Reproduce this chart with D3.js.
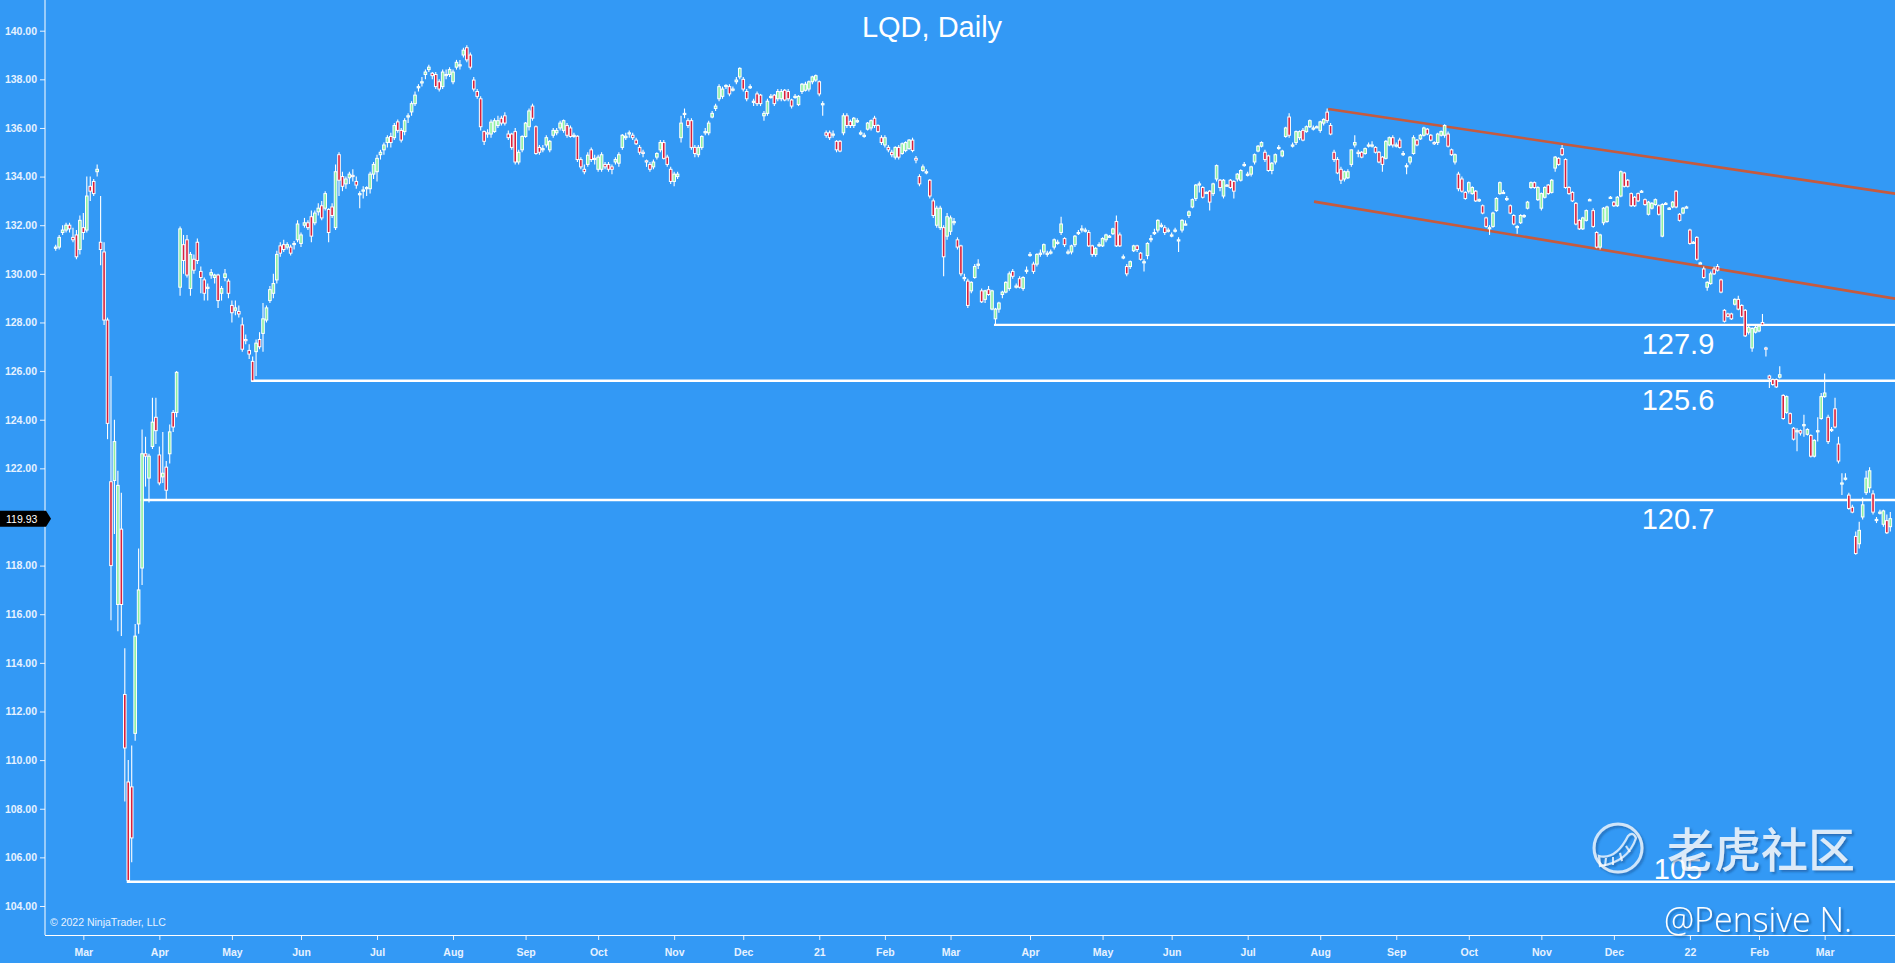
<!DOCTYPE html>
<html><head><meta charset="utf-8">
<script src="https://cdn.jsdelivr.net/npm/d3@7"></script>
<style>
html,body{margin:0;padding:0;background:#3399f5;overflow:hidden}
svg{display:block}
</style></head><body>
<svg id="c" width="1895" height="963"></svg>
<script>
const title = "LQD, Daily";
const copyright = "\u00a9 2022 NinjaTrader, LLC";
const firstDate = "2020-02-19";
const holidays = ["2020-04-10","2020-05-25","2020-07-03","2020-09-07","2020-11-26","2020-12-25",
 "2021-01-01","2021-01-18","2021-02-15","2021-04-02","2021-05-31","2021-07-05","2021-09-06","2021-11-25","2021-12-24",
 "2022-01-17","2022-02-21"];
const monthNames = ["Jan","Feb","Mar","Apr","May","Jun","Jul","Aug","Sep","Oct","Nov","Dec"];
const yTicks = [104,106,108,110,112,114,116,118,120,122,124,126,128,130,132,134,136,138,140];

const opens = [
131.05,131.1,131.7,131.8,132.0,131.5,131.6,131.0,131.9,131.8,
133.6,133.8,134.2,131.3,130.9,128.1,121.45,121.5,116.4,119.5,
112.7,109.1,108.9,111.1,115.6,117.9,122.6,121.6,122.9,124.1,
122.55,121.65,122.05,122.6,124.3,124.3,129.45,131.2,131.4,129.4,
130.6,131.3,130.1,129.75,129.4,129.95,129.85,129.95,129.2,129.85,
129.7,128.7,128.5,128.45,127.9,127.3,126.85,126.4,126.8,127.3,
127.55,128.1,128.9,129.2,129.75,131.15,131.2,131.1,131.1,131.2,
131.4,131.25,132.0,132.1,132.35,132.1,132.55,132.8,132.7,132.65,
132.75,131.9,134.9,134.0,133.7,133.95,134.05,133.8,133.3,133.4,
133.5,133.5,134.1,134.2,134.9,135.1,135.4,135.65,135.6,136.25,
135.9,135.85,136.45,136.66,137.0,137.65,137.85,138.2,138.4,138.25,
138.2,137.9,137.7,138.2,138.2,137.9,138.5,138.6,139.0,139.3,
139.0,137.97,137.5,137.2,135.85,135.8,135.75,135.85,136.1,136.4,
136.5,135.75,135.75,135.85,134.6,135.1,135.65,136.05,136.9,136.05,
135.2,135.1,135.3,135.1,135.7,135.8,136.0,135.9,136.1,136.0,
135.7,135.66,134.7,134.3,134.5,135.1,134.7,134.3,134.3,134.5,
134.5,134.4,134.6,134.55,135.2,135.6,135.8,135.7,135.5,135.2,
135.0,134.65,134.5,134.4,134.8,135.1,135.4,134.8,134.3,133.8,
134.0,135.6,136.6,136.3,136.3,135.2,134.9,135.2,135.8,135.8,
136.45,136.8,137.2,137.3,137.7,137.7,137.6,137.9,138.1,138.0,
137.5,137.7,137.1,137.4,137.35,136.5,136.6,137.3,137.35,137.2,
137.2,137.55,137.5,137.15,137.3,136.96,137.5,137.55,137.6,137.9,
137.97,137.9,137.0,135.8,135.8,135.75,135.45,135.45,135.8,136.5,
136.26,136.1,136.3,135.8,135.7,135.95,136.0,136.4,136.1,135.6,
135.3,135.2,135.0,134.8,135.2,134.95,135.07,135.15,135.5,134.75,
134.0,134.25,134.2,133.85,133.0,132.0,131.9,131.9,131.55,131.75,
132.15,131.4,131.15,129.85,129.7,129.3,129.85,130.4,129.3,128.95,
129.35,128.55,128.15,128.55,129.15,129.25,129.4,130.1,129.5,129.8,
129.4,130.15,130.8,130.4,130.4,130.85,130.9,130.85,130.9,131.1,
131.3,131.7,131.45,130.9,130.9,131.2,131.7,131.85,131.8,131.7,
131.15,130.8,131.2,131.15,131.4,131.55,131.65,132.15,131.6,130.7,
130.3,130.3,130.95,131.15,130.85,130.5,130.75,131.45,131.7,131.8,
132.0,131.9,131.8,131.6,131.8,131.4,131.8,132.05,132.4,132.75,
133.1,133.7,133.55,133.35,133.4,133.3,133.9,133.85,133.2,133.65,
133.85,133.8,133.9,133.85,134.5,134.1,134.1,134.6,135.05,135.25,
135.0,134.85,134.25,134.6,135.2,134.85,135.65,136.45,135.3,135.4,
135.6,135.9,135.85,136.05,136.0,136.05,135.9,136.2,136.65,136.1,
135.0,134.7,134.3,133.9,133.95,134.5,135.3,135.0,135.0,134.95,
135.3,135.3,135.2,135.0,134.8,134.75,135.3,135.6,135.3,135.5,
134.95,134.45,134.6,134.95,135.5,135.55,135.7,135.95,135.7,135.4,
135.4,135.7,135.7,135.75,135.1,134.6,134.1,133.9,133.35,133.4,
133.3,133.4,133.05,132.8,132.3,131.9,131.95,132.6,133.3,133.35,
133.1,132.8,132.4,131.95,132.1,132.4,132.7,133.55,133.75,133.05,
132.7,133.15,133.65,133.35,134.35,134.75,135.15,134.7,133.55,133.35,
132.9,132.2,131.85,132.2,133.05,132.6,131.7,131.1,132.1,132.15,
133.15,132.95,132.8,133.2,134.15,133.85,133.3,133.15,133.3,133.4,
133.05,132.45,132.7,132.85,132.8,131.55,132.9,132.7,132.75,133.4,
132.45,132.5,132.75,131.8,131.3,131.5,130.45,130.2,129.45,129.6,
130.2,130.3,129.75,128.5,128.35,128.35,128.75,128.95,128.7,128.5,
127.6,126.95,127.6,127.65,128.0,126.95,125.8,125.65,125.65,125.75,
125.0,124.3,124.25,123.65,123.55,123.55,123.75,123.4,123.35,122.5,
123.5,124.05,124.95,124.1,123.6,124.45,123.0,121.4,121.6,120.9,
120.4,119.2,118.9,120.0,121.0,121.2,120.95,119.9,120.2,119.7,
119.85,119.6];

const highs = [
131.2,131.6,132.0,132.1,132.1,131.9,131.8,132.4,132.5,134.0,
134.0,133.9,134.5,133.2,131.3,128.2,125.8,124.0,121.9,121.0,
114.6,110.0,110.6,115.6,118.7,123.6,123.3,122.6,124.9,124.9,
122.9,123.5,122.3,123.8,124.4,126.0,131.95,131.6,131.6,130.9,
130.8,131.45,130.3,129.85,129.6,130.2,130.0,130.0,129.5,130.2,
129.8,128.9,128.9,128.7,128.2,127.5,127.1,126.6,127.3,127.6,
128.8,128.7,129.5,130.0,130.95,131.3,131.4,131.3,131.2,131.35,
132.2,131.7,132.3,132.2,132.6,132.6,132.9,133.0,133.4,132.7,
132.9,134.5,135.0,134.2,134.0,134.2,134.3,134.0,133.4,133.6,
133.6,134.2,134.6,134.9,135.1,135.4,135.7,135.8,136.2,136.35,
136.0,136.4,136.6,137.1,137.5,137.8,138.1,138.4,138.6,138.3,
138.3,138.0,138.4,138.4,138.5,138.4,138.8,138.8,139.3,139.4,
139.1,138.1,137.6,137.3,135.9,135.95,136.35,136.4,136.5,136.5,
136.65,135.9,135.8,136.0,135.1,135.7,136.25,136.8,137.0,136.1,
135.3,135.3,135.7,135.5,136.0,136.0,136.3,136.35,136.2,136.1,
135.8,135.7,134.8,134.5,135.0,135.2,134.9,134.9,135.0,134.6,
134.6,134.5,134.8,135.0,135.75,135.8,135.9,135.8,135.6,135.3,
135.1,134.7,134.6,134.7,135.0,135.5,135.5,134.9,134.4,134.2,
134.2,136.5,136.8,136.4,136.4,135.3,135.3,135.7,136.0,136.3,
136.7,137.0,137.8,137.7,137.8,137.8,137.7,138.1,138.5,138.1,
137.6,137.8,137.2,137.5,137.4,136.7,137.2,137.4,137.4,137.6,
137.6,137.6,137.6,137.2,137.4,137.35,137.85,137.9,137.95,138.15,
138.2,137.95,137.1,135.9,135.9,135.9,135.5,135.5,136.6,136.6,
136.35,136.45,136.4,135.9,135.8,136.25,136.35,136.5,136.15,135.7,
135.7,135.3,135.1,135.25,135.3,135.4,135.45,135.55,135.6,134.85,
134.1,134.5,134.3,133.9,133.1,132.8,132.8,132.0,132.5,132.4,
132.3,131.5,131.2,130.0,129.8,129.7,130.4,130.6,129.4,129.35,
129.5,129.35,128.6,128.85,129.3,129.7,130.1,130.2,129.6,129.9,
129.9,130.3,130.9,130.5,130.85,131.0,131.25,130.95,131.0,131.45,
131.4,132.35,131.5,131.0,131.2,131.6,131.8,132.0,131.9,131.8,
131.2,131.1,131.3,131.5,131.65,131.6,131.9,132.4,131.7,130.8,
130.4,130.55,131.2,131.2,130.9,130.6,131.3,131.6,131.85,132.25,
132.1,132.0,131.9,131.7,131.9,131.5,132.25,132.2,132.6,133.1,
133.7,133.8,133.6,133.4,133.45,133.75,134.5,133.9,133.9,133.7,
133.9,133.85,134.15,134.3,134.6,134.2,134.45,134.95,135.3,135.45,
135.1,134.9,134.6,134.95,135.3,135.1,136.05,136.6,135.4,135.9,
135.9,136.0,136.1,136.35,136.1,136.1,136.3,136.4,136.8,136.2,
135.1,134.8,134.4,134.25,134.3,135.1,135.7,135.1,135.05,135.2,
135.4,135.45,135.25,135.05,134.85,135.5,135.65,135.7,135.4,135.6,
135.05,134.55,134.85,135.7,135.55,135.75,136.05,136.0,135.75,135.45,
135.8,135.9,136.15,135.85,135.15,134.95,134.2,134.0,133.4,133.8,
133.6,133.45,133.1,132.85,132.35,132.0,132.55,133.15,133.8,133.45,
133.2,132.85,132.45,132.0,132.45,132.45,133.0,133.8,133.8,133.6,
133.35,133.6,133.7,133.9,134.85,134.8,135.3,134.75,133.6,133.4,
132.95,132.25,132.35,132.65,133.1,132.7,131.75,131.65,132.75,132.8,
133.2,133.0,133.2,134.25,134.2,133.9,133.35,133.2,133.35,133.45,
133.1,133.0,132.95,133.1,132.85,132.9,132.95,132.75,133.0,133.45,
132.5,132.75,132.8,131.85,131.35,131.55,130.5,130.3,129.7,130.1,
130.3,130.4,129.8,128.55,128.4,128.4,129.0,129.1,128.75,128.55,
127.85,127.8,127.85,127.9,128.35,127.0,125.85,125.7,125.7,126.2,
125.05,125.0,124.3,123.7,123.65,123.6,124.2,123.65,123.4,123.2,
124.1,125.1,125.9,124.2,123.7,124.9,123.3,121.8,121.8,121.0,
120.5,119.4,119.8,120.8,121.9,122.05,121.1,120.0,120.3,120.3,
120.1,120.2];

const lows = [
130.95,131.0,131.6,131.7,131.7,131.3,130.6,130.8,131.4,131.7,
133.0,133.2,134.0,130.35,127.9,123.2,115.75,119.3,115.3,115.1,
108.3,105.0,105.8,110.8,115.2,117.2,121.25,120.6,122.8,123.0,
121.3,121.4,120.7,122.2,123.5,124.1,129.1,130.0,129.85,129.1,
130.0,130.4,129.2,128.9,128.9,129.8,129.6,128.6,128.9,129.7,
129.0,128.0,128.3,128.2,126.8,127.1,126.5,125.55,125.8,126.9,
126.8,128.0,128.8,129.0,129.6,130.7,130.9,131.0,130.75,131.0,
131.3,131.1,131.9,131.8,131.3,132.0,132.4,132.2,132.6,131.3,
132.3,131.8,133.2,133.4,133.5,133.7,133.8,133.5,132.7,133.1,
133.2,133.3,133.9,133.8,134.7,134.9,135.2,135.2,135.5,135.8,
135.4,135.7,136.2,136.5,136.9,137.5,137.7,138.0,138.3,138.0,
137.6,137.5,137.6,138.0,138.1,137.8,138.4,138.4,138.9,138.7,
138.4,137.5,137.2,135.9,135.3,135.6,135.6,135.8,136.0,136.1,
136.1,135.5,135.1,134.5,134.5,135.0,135.6,135.9,136.3,134.9,
134.9,135.0,135.2,135.0,135.6,135.7,135.9,135.8,135.6,135.6,
135.6,134.6,134.3,134.1,134.4,134.6,134.5,134.2,134.2,134.3,
134.2,134.1,134.5,134.4,135.1,135.5,135.6,135.5,135.3,134.9,
134.8,134.4,134.2,134.3,134.7,135.0,134.7,134.4,133.7,133.6,
133.9,135.4,136.4,136.0,135.1,134.8,134.8,135.1,135.7,135.7,
136.4,136.7,137.1,137.2,137.6,137.3,137.5,137.8,138.0,137.5,
137.1,137.6,136.9,136.9,136.9,136.3,136.5,137.2,136.9,137.1,
137.1,137.1,137.1,136.8,137.2,136.9,137.4,137.5,137.5,137.8,
137.9,137.3,136.5,135.6,135.5,135.6,135.0,135.0,135.7,136.0,
136.0,136.0,136.2,135.7,135.6,135.9,135.9,136.0,135.8,135.3,
135.2,135.0,134.8,134.7,134.7,134.9,135.0,135.1,135.0,134.55,
133.6,134.2,134.1,133.1,132.3,131.9,131.8,129.9,131.4,131.6,
132.0,131.0,129.9,129.7,128.6,129.2,129.8,130.2,128.8,128.8,
129.1,128.5,127.9,128.4,129.0,129.2,129.3,129.8,129.4,129.4,
129.3,130.0,130.7,130.0,130.3,130.7,130.8,130.7,130.8,131.0,
131.2,131.6,131.1,130.8,130.8,131.1,131.6,131.7,131.7,131.1,
130.7,130.7,131.1,131.1,131.3,131.5,131.6,131.1,131.1,130.6,
129.9,130.2,130.9,130.9,130.55,130.1,130.6,131.3,131.6,131.7,
131.9,131.6,131.7,131.5,131.7,130.9,131.7,132.0,132.3,132.7,
133.0,133.35,133.1,133.3,132.6,133.2,133.8,133.4,133.1,133.6,
133.5,133.1,133.8,133.8,134.4,134.0,134.0,134.5,135.0,135.2,
134.6,134.2,134.1,134.5,135.1,134.8,135.6,135.6,135.2,135.3,
135.5,135.45,135.8,136.0,135.9,136.0,135.8,136.1,136.2,135.7,
134.6,134.1,133.7,133.8,133.9,134.4,135.2,134.8,134.75,134.9,
135.2,135.2,134.95,134.55,134.2,134.7,135.25,135.2,135.2,135.15,
134.85,134.1,134.5,134.9,135.25,135.5,135.65,135.7,135.45,135.3,
135.3,135.65,135.6,135.2,134.85,134.5,133.4,133.35,133.05,133.3,
133.25,132.95,132.95,132.45,131.9,131.6,131.9,132.55,133.25,133.3,
133.0,132.45,132.0,131.65,132.05,132.3,132.65,133.5,133.5,133.0,
132.6,133.1,133.25,133.3,134.2,134.45,134.85,133.5,133.25,132.95,
132.0,131.8,131.8,132.15,133.0,131.9,131.05,131.0,132.0,132.1,
133.1,132.75,132.75,133.15,133.55,133.55,132.75,132.75,132.95,133.35,
132.8,132.4,132.65,132.8,132.4,131.5,132.85,132.65,132.7,132.7,
132.15,132.45,132.7,131.2,131.25,130.55,130.4,129.8,129.3,129.55,
129.95,130.1,129.2,128.0,128.2,128.1,128.7,128.5,128.2,127.4,
127.5,126.8,127.55,127.6,127.85,126.6,125.3,125.4,125.3,125.7,
124.0,124.25,123.8,123.15,122.7,123.35,123.3,123.35,122.45,122.45,
123.1,124.0,124.9,123.0,123.5,123.65,122.2,120.9,121.5,120.3,
120.15,118.45,118.7,119.9,120.9,121.0,120.1,119.75,120.1,119.6,
119.3,119.4];

const closes = [
131.1,131.5,131.8,132.0,131.85,131.4,130.7,132.2,131.7,133.2,
133.4,133.3,134.3,131.0,128.1,123.85,118.0,123.1,121.3,116.4,
110.5,105.05,106.8,115.1,117.0,122.6,122.5,122.5,123.9,123.55,
121.4,121.8,121.1,123.5,123.7,125.95,131.85,130.55,129.95,130.8,
130.15,130.55,129.85,129.2,129.45,130.05,129.95,128.9,129.4,130.0,
129.2,128.4,128.6,128.35,126.9,127.25,126.7,125.6,127.15,127.0,
128.15,128.6,129.35,129.6,130.8,130.85,131.0,131.2,130.85,131.25,
132.05,131.6,132.1,131.9,131.55,132.5,132.7,132.3,133.3,131.7,
132.4,134.2,133.85,133.6,133.9,134.1,134.0,133.65,133.3,133.45,
133.55,134.1,134.5,134.75,135.0,135.3,135.6,135.4,136.1,135.9,
135.5,136.3,136.5,137.0,137.35,137.7,137.9,138.3,138.5,138.15,
137.7,137.6,138.3,138.2,138.4,138.3,138.7,138.6,139.2,138.8,
138.5,137.6,137.3,136.05,135.45,135.75,136.24,136.3,136.3,136.2,
136.2,135.6,135.2,134.6,135.0,135.65,136.2,136.7,136.4,134.95,
135.0,135.15,135.6,135.45,135.9,135.9,136.2,136.3,135.7,135.65,
135.7,134.7,134.4,134.2,134.88,134.7,134.75,134.8,134.9,134.4,
134.3,134.3,134.7,134.9,135.7,135.66,135.8,135.6,135.35,135.0,
134.95,134.6,134.3,134.6,134.95,135.4,134.75,134.5,133.8,134.1,
134.1,136.2,136.6,136.1,135.2,134.95,135.2,135.65,135.85,136.2,
136.6,136.9,137.7,137.6,137.75,137.4,137.6,137.97,138.45,137.6,
137.2,137.7,137.1,137.0,137.0,136.6,137.1,137.3,137.0,137.5,
137.5,137.15,137.2,136.9,137.3,137.3,137.8,137.8,137.9,138.1,
138.15,137.4,137.0,135.7,135.6,135.75,135.1,135.05,136.5,136.1,
136.1,136.4,136.3,135.8,135.7,136.2,136.3,136.1,135.85,135.4,
135.6,135.1,134.9,135.2,134.8,135.35,135.4,135.5,135.07,134.68,
133.7,134.4,134.2,133.2,132.4,132.7,132.7,130.7,132.35,132.3,
132.15,131.1,130.0,129.85,128.7,129.65,130.3,130.4,128.85,129.3,
129.15,129.3,128.55,128.8,129.25,129.65,130.0,129.9,129.5,129.45,
129.85,130.15,130.8,130.1,130.8,130.85,131.2,130.85,130.9,131.4,
131.3,132.05,131.2,130.9,131.15,131.55,131.7,131.85,131.8,131.15,
130.8,131.05,131.2,131.45,131.6,131.55,131.85,131.15,131.15,130.7,
130.0,130.5,131.15,131.0,130.6,130.5,131.25,131.45,131.7,132.2,
132.0,131.7,131.8,131.6,131.8,131.4,132.2,132.05,132.55,133.05,
133.65,133.7,133.15,133.35,132.95,133.7,134.45,133.55,133.85,133.65,
133.55,133.4,134.1,134.25,134.5,134.1,134.4,134.9,135.25,135.4,
134.7,134.25,134.55,134.9,135.2,135.05,136.0,135.7,135.3,135.85,
135.85,135.5,136.05,136.3,136.0,136.05,136.25,136.35,136.3,135.75,
134.7,134.15,133.85,134.2,134.2,135.1,135.4,134.95,134.8,135.15,
135.3,135.3,135.0,134.6,134.5,135.45,135.6,135.3,135.3,135.2,
134.95,134.45,134.8,135.6,135.3,135.7,136.0,135.75,135.5,135.35,
135.75,135.85,136.1,135.25,134.9,134.9,133.5,133.4,133.1,133.75,
133.55,133.0,133.05,132.5,131.95,131.9,132.5,133.1,133.75,133.35,
133.1,132.5,132.05,131.95,132.4,132.4,132.95,133.75,133.55,133.55,
133.3,133.55,133.3,133.85,134.8,134.5,134.9,133.55,133.3,133.0,
132.05,131.85,132.3,132.6,133.05,131.95,131.1,131.6,132.7,132.75,
133.15,132.8,133.15,134.2,133.6,133.6,132.8,132.8,133.0,133.4,
132.85,132.95,132.9,133.05,132.45,132.85,132.9,132.7,132.95,132.75,
132.2,132.7,132.75,131.25,131.3,130.6,130.45,129.85,129.65,130.0,
130.0,130.15,129.25,128.05,128.25,128.15,128.95,128.55,128.25,127.45,
127.8,127.75,127.8,127.85,127.9,126.9,125.7,125.45,125.35,125.85,
124.05,124.95,123.85,123.2,123.55,123.45,123.8,123.6,122.5,123.15,
123.55,124.95,125.1,123.1,123.6,123.7,122.3,121.4,121.6,120.35,
120.2,118.5,119.45,120.5,121.6,121.9,120.2,119.9,120.2,120.25,
119.35,119.93];

// horizontal support levels: price, bar index where the line starts, label placement
const levelPrices = [127.9, 125.6, 120.7, 105];
const levelLabels = ["127.9", "125.6", "120.7", "105"];
const levelStartBars = [272, 57, 25, 21];
const levelLabelAbove = [false, false, false, true];
// downward channel: [barIndex, price] pairs
const channelUpper = [[368.3, 136.78], [532.4, 133.3]];
const channelLower = [[364.2, 132.97], [532.4, 128.98]];

// ---- build trading calendar ----
const hol = new Set(holidays);
const dates = [];
{
  const [yy, mm, dd] = firstDate.split("-").map(Number);
  const d = new Date(Date.UTC(yy, mm - 1, dd));
  while (dates.length < closes.length) {
    const wd = d.getUTCDay();
    const s = d.toISOString().slice(0, 10);
    if (wd !== 0 && wd !== 6 && !hol.has(s)) dates.push(new Date(d.getTime()));
    d.setUTCDate(d.getUTCDate() + 1);
  }
}
const bars = closes.map((c, i) => ({i, o: opens[i], h: highs[i], l: lows[i], c, date: dates[i]}));

const W = 1895, H = 963;
const plotL = 45, plotR = 1895, plotT = 0, plotB = 935;
const svg = d3.select("#c");
const BG = "#3399f5", TXT = "#e6f2ff";

svg.append("rect").attr("width", W).attr("height", H).attr("fill", BG);

const x = d3.scaleLinear().domain([0, bars.length - 1]).range([55.7, 55.7 + (bars.length - 1) * 3.455]);
const y = d3.scaleLinear().domain([104, 140]).range([906, 30.7]);

const defs = svg.append("defs");
defs.append("clipPath").attr("id", "plotclip").append("rect")
  .attr("x", plotL + 1).attr("y", plotT).attr("width", plotR - plotL).attr("height", plotB - plotT);
const f = defs.append("filter").attr("id", "shadow").attr("x", "-10%").attr("y", "-10%").attr("width", "130%").attr("height", "140%");
f.append("feDropShadow").attr("dx", 2).attr("dy", 2).attr("stdDeviation", 1.2)
  .attr("flood-color", "#123a70").attr("flood-opacity", 0.55);

// title
svg.append("text").attr("x", 932).attr("y", 37).attr("text-anchor", "middle")
  .attr("font-family", "Liberation Sans, Arial, sans-serif").attr("font-size", 29)
  .attr("fill", "#ffffff").text(title);

// axes
const yAxis = d3.axisLeft(y).tickValues(yTicks).tickFormat(d3.format(".2f")).tickSize(5).tickPadding(3);
const gy = svg.append("g").attr("transform", `translate(${plotL},0)`).call(yAxis);
gy.select(".domain").remove();
gy.selectAll(".tick line").attr("stroke", TXT);
gy.selectAll(".tick text").attr("fill", TXT).attr("font-family", "Liberation Sans, Arial, sans-serif")
  .attr("font-size", 10.5).attr("font-weight", "bold");

const monthTicks = bars.filter((b, i) => i > 0 && b.date.getUTCMonth() !== bars[i - 1].date.getUTCMonth());
const xAxis = d3.axisBottom(x).tickValues(monthTicks.map(b => b.i))
  .tickFormat(i => { const dt = bars[i].date; const m = dt.getUTCMonth(); return m === 0 ? String(dt.getUTCFullYear()).slice(2) : monthNames[m]; })
  .tickSize(5).tickPadding(9);
const gx = svg.append("g").attr("transform", `translate(0,${plotB})`).call(xAxis);
gx.select(".domain").remove();
gx.selectAll(".tick line").attr("stroke", TXT);
gx.selectAll(".tick text").attr("fill", TXT).attr("font-family", "Liberation Sans, Arial, sans-serif")
  .attr("font-size", 10.5).attr("font-weight", "bold");

svg.append("line").attr("x1", plotL).attr("x2", plotL).attr("y1", plotT).attr("y2", plotB)
  .attr("stroke", "#ffffff").attr("stroke-width", 1);
svg.append("line").attr("x1", plotL).attr("x2", plotR).attr("y1", plotB + 0.5).attr("y2", plotB + 0.5)
  .attr("stroke", "#ffffff").attr("stroke-width", 1);

// copyright
svg.append("text").attr("x", 50).attr("y", 926).attr("fill", TXT)
  .attr("font-family", "Liberation Sans, Arial, sans-serif").attr("font-size", 10.5).text(copyright);

const plot = svg.append("g").attr("clip-path", "url(#plotclip)");

// support lines
levelPrices.forEach((p, k) => {
  const x0 = x(levelStartBars[k]) - 1.5;
  plot.append("line").attr("x1", x0).attr("x2", plotR).attr("y1", y(p)).attr("y2", y(p))
    .attr("stroke", "#ffffff").attr("stroke-width", 2.4);
});

// channel lines
[channelUpper, channelLower].forEach(seg => {
  plot.append("line")
    .attr("x1", x(seg[0][0])).attr("y1", y(seg[0][1]))
    .attr("x2", x(seg[1][0])).attr("y2", y(seg[1][1]))
    .attr("stroke", "#c65a3e").attr("stroke-width", 2.6);
});

// candles
const cg = plot.append("g");
const cand = cg.selectAll("g.c").data(bars).join("g").attr("class", "c");
cand.append("line")
  .attr("x1", d => x(d.i)).attr("x2", d => x(d.i))
  .attr("y1", d => y(d.h)).attr("y2", d => y(d.l))
  .attr("stroke", "#ffffff").attr("stroke-width", 1.1);
cand.append("rect")
  .attr("x", d => x(d.i) - 1.3).attr("width", 2.6)
  .attr("y", d => y(Math.max(d.o, d.c)))
  .attr("height", d => Math.max(1.2, Math.abs(y(d.o) - y(d.c))))
  .attr("fill", d => d.c >= d.o ? "#8ff0a0" : "#d8203c")
  .attr("stroke", "#ffffff").attr("stroke-width", 1);

// level labels
levelPrices.forEach((p, k) => {
  svg.append("text").attr("x", 1678).attr("y", levelLabelAbove[k] ? y(p) - 3 : y(p) + 29)
    .attr("text-anchor", "middle").attr("font-family", "Liberation Sans, Arial, sans-serif")
    .attr("font-size", 29).attr("fill", "#ffffff").text(levelLabels[k]);
});

// last price tag
const lastC = closes[closes.length - 1];
const yc = y(lastC);
svg.append("path")
  .attr("d", `M0,${yc - 8}L46,${yc - 8}L51,${yc}L46,${yc + 8}L0,${yc + 8}Z`)
  .attr("fill", "#000000");
svg.append("text").attr("x", 6).attr("y", yc + 4).attr("fill", "#ffffff")
  .attr("font-family", "Liberation Sans, Arial, sans-serif").attr("font-size", 10.5)
  .text(d3.format(".2f")(lastC));

// watermark
const wm = svg.append("g").attr("filter", "url(#shadow)");
wm.append("circle").attr("cx", 1618).attr("cy", 848).attr("r", 24)
  .attr("fill", "none").attr("stroke", "rgba(255,255,255,0.75)").attr("stroke-width", 3);
wm.append("path").attr("d", "M1599,856 Q1616,860 1628,836 Q1633,831 1636,838 Q1628,862 1600,866 Z")
  .attr("fill", "none").attr("stroke", "rgba(255,255,255,0.75)").attr("stroke-width", 2.2);
[[1606,858,1605,866],[1613,857,1613,865],[1620,853,1622,861],[1626,846,1630,852]].forEach(s => {
  wm.append("line").attr("x1", s[0]).attr("y1", s[1]).attr("x2", s[2]).attr("y2", s[3])
    .attr("stroke", "rgba(255,255,255,0.75)").attr("stroke-width", 2);
});
wm.append("text").attr("x", 1667).attr("y", 867)
  .attr("font-family", "Noto Sans CJK SC, sans-serif").attr("font-size", 47).attr("font-weight", 500)
  .attr("fill", "rgba(255,255,255,0.8)").text("老虎社区");
svg.append("text").attr("x", 1664).attr("y", 932)
  .attr("font-family", "Open Sans, Noto Sans, sans-serif").attr("font-size", 34).attr("font-weight", 300)
  .attr("fill", "#ffffff").attr("filter", "url(#shadow)").text("@Pensive N.");
</script>
</body></html>
